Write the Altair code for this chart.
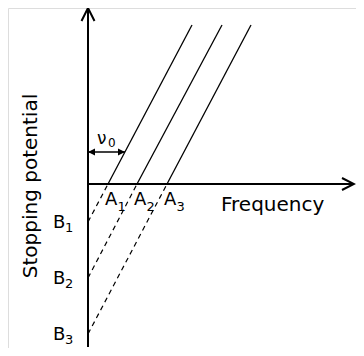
import altair as alt
import pandas as pd

# ---- data (frequency units / stopping-potential units) ----
curve_ids = ["1", "2", "3"]
a_intercepts = [2.0, 4.9, 7.9]          # A1, A2, A3 on the frequency axis
b_intercepts = [-3.8, -9.4, -15.0]      # B1, B2, B3 on the potential axis
top_freq = [10.4, 13.4, 16.3]           # upper ends of the solid lines
top_potential = [15.9, 15.9, 15.9]
nu0_level = 3.2                         # height of the nu0 double arrow
nu0_end = 3.7                           # where it meets the first line

x_domain = [-8.0, 26.8]
y_domain = [-16.4, 17.6]
axis_x_end = 26.6
axis_y_top = 17.6
axis_y_bottom = -16.3

FONT = "DejaVu Sans"
XS = alt.Scale(domain=x_domain, nice=False, zero=False)
YS = alt.Scale(domain=y_domain, nice=False, zero=False)


def seg(df, **kw):
    return alt.Chart(df).mark_rule(color="black", **kw).encode(
        x=alt.X("x:Q", scale=XS, axis=None),
        y=alt.Y("y:Q", scale=YS, axis=None),
        x2="x2:Q",
        y2="y2:Q",
    )


def pts(df, **kw):
    return alt.Chart(df).mark_point(color="black", opacity=1, **kw).encode(
        x=alt.X("x:Q", scale=XS, axis=None),
        y=alt.Y("y:Q", scale=YS, axis=None),
    )


def txt(df, **kw):
    base = dict(font=FONT, color="black", align="left", baseline="alphabetic")
    base.update(kw)
    return alt.Chart(df).mark_text(**base).encode(
        x=alt.X("x:Q", scale=XS, axis=None),
        y=alt.Y("y:Q", scale=YS, axis=None),
        text="t:N",
    )


axes_df = pd.DataFrame({
    "x": [0.0, 0.0], "y": [axis_y_bottom, 0.0],
    "x2": [0.0, axis_x_end], "y2": [axis_y_top, 0.0],
})
solid_df = pd.DataFrame({"x": a_intercepts, "y": [0.0] * 3,
                         "x2": top_freq, "y2": top_potential})
dashed_df = pd.DataFrame({"x": [0.0] * 3, "y": b_intercepts,
                          "x2": a_intercepts, "y2": [0.0] * 3})
nu_df = pd.DataFrame({"x": [0.0], "y": [nu0_level], "x2": [nu0_end], "y2": [nu0_level]})

up_tip = pd.DataFrame({"x": [0.0], "y": [axis_y_top]})
right_tip = pd.DataFrame({"x": [axis_x_end], "y": [0.0]})
nu_left = pd.DataFrame({"x": [0.0], "y": [nu0_level]})
nu_right = pd.DataFrame({"x": [nu0_end], "y": [nu0_level]})

a_main = pd.DataFrame({"x": a_intercepts, "y": [0.0] * 3, "t": ["A"] * 3})
a_sub = pd.DataFrame({"x": a_intercepts, "y": [0.0] * 3, "t": curve_ids})
b_main = pd.DataFrame({"x": [0.0] * 3, "y": b_intercepts, "t": ["B"] * 3})
b_sub = pd.DataFrame({"x": [0.0] * 3, "y": b_intercepts, "t": curve_ids})
freq_lbl = pd.DataFrame({"x": [13.3], "y": [0.0], "t": ["Frequency"]})
pot_lbl = pd.DataFrame({"x": [-5.7], "y": [-0.2], "t": ["Stopping potential"]})
nu_main = pd.DataFrame({"x": [0.9], "y": [4.0], "t": ["ν"]})
nu_sub = pd.DataFrame({"x": [0.9], "y": [4.0], "t": ["0"]})

chart = alt.layer(
    seg(axes_df, strokeWidth=2),
    seg(solid_df, strokeWidth=1.3),
    seg(dashed_df, strokeWidth=1.2, strokeDash=[5, 4]),
    seg(nu_df, strokeWidth=1.5),
    pts(up_tip, shape="M-1,2L0,0L1,2", size=169, filled=False, strokeWidth=2),
    pts(right_tip, shape="M-2,-1L0,0L-2,1", size=144, filled=False, strokeWidth=2),
    pts(nu_left, shape="M0,0L2,-1L2,1Z", size=49, filled=True),
    pts(nu_right, shape="M0,0L-2,-1L-2,1Z", size=49, filled=True),
    txt(a_main, fontSize=18, dx=-3, dy=21),
    txt(a_sub, fontSize=13, dx=9.5, dy=27),
    txt(b_main, fontSize=18, dx=-35, dy=6),
    txt(b_sub, fontSize=13, dx=-23, dy=10),
    txt(freq_lbl, fontSize=20, dy=27),
    txt(pot_lbl, fontSize=20, angle=270, align="center", baseline="middle"),
    txt(nu_main, fontSize=17),
    txt(nu_sub, fontSize=12, dx=11, dy=3),
).properties(
    width=348, height=340, padding=0,
    autosize=alt.AutoSizeParams(type="none"),
).configure_view(stroke=None).configure(background="white")

chart.save("out.html", embed_options={"renderer": "svg", "actions": False})
